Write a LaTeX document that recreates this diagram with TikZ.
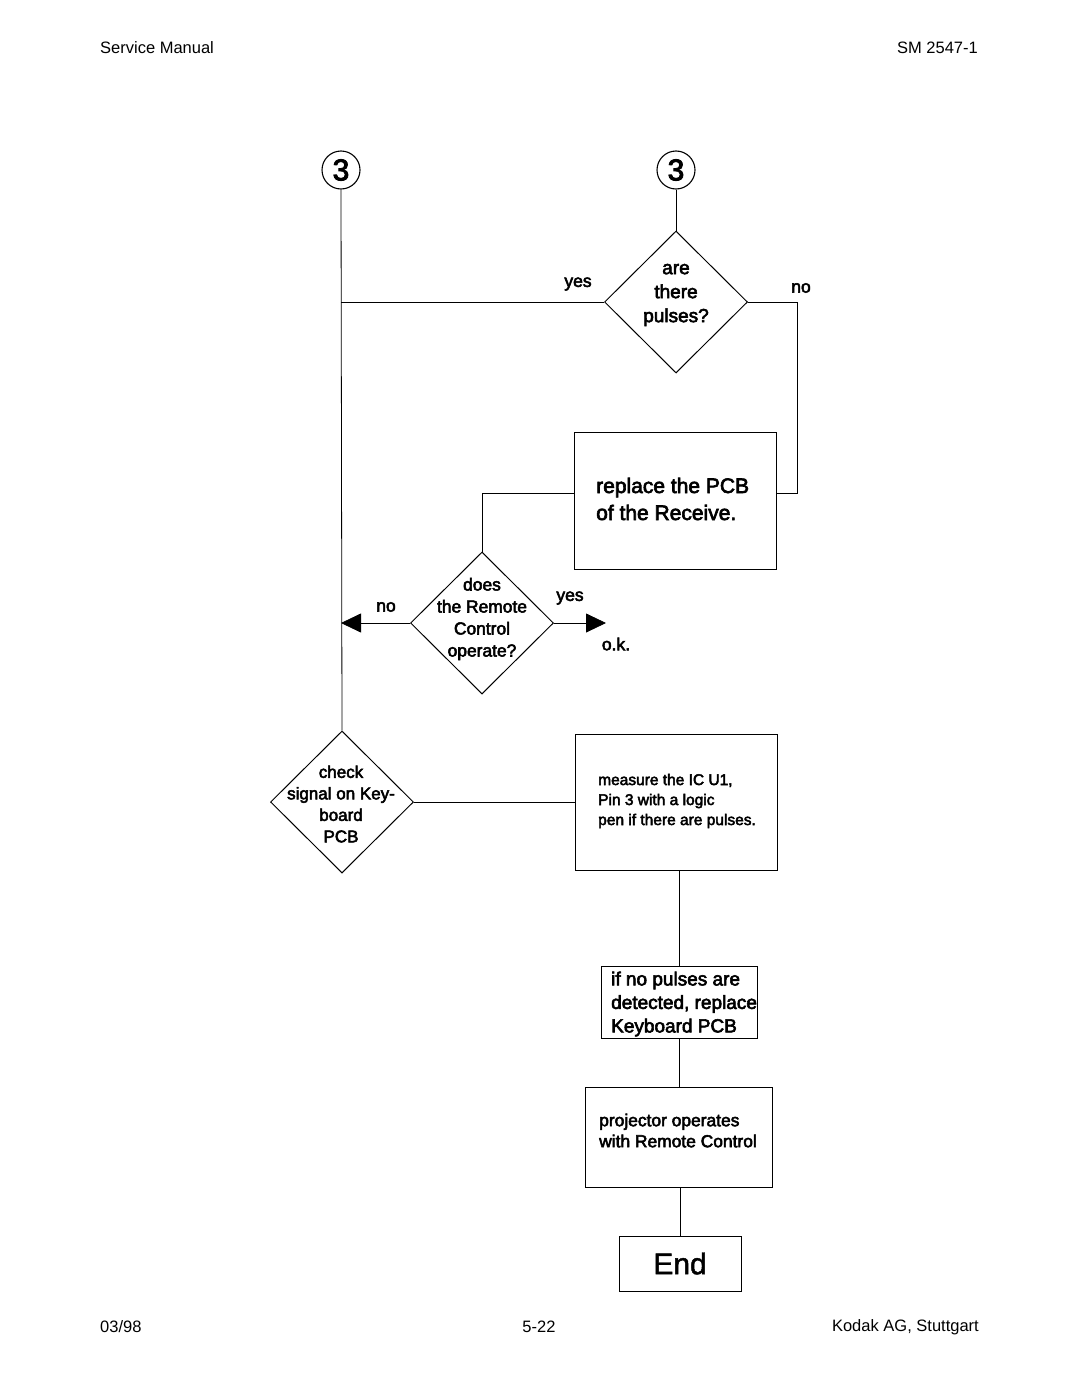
\documentclass[tikz,border=0pt]{standalone}
\usepackage{fontspec}
\setmainfont{Liberation Sans}
\newfontfamily\fc[FakeBold=3]{Liberation Sans}
\newfontfamily\fce[FakeBold=1.5]{Liberation Sans}
\usetikzlibrary{shapes.geometric,arrows.meta}
\newcommand\fsz[2]{\fontsize{#1}{#2}\selectfont}
\begin{document}
\begin{tikzpicture}[x=1pt,y=-1pt,
  conn/.style={line width=0.8pt},
  stepbox/.style={draw, line width=1pt, rectangle, inner sep=0pt},
  decision/.style={draw, line width=1pt, diamond, inner sep=0pt, minimum width=143pt, minimum height=142pt},
  conncircle/.style={draw, circle, line width=1.1pt, minimum size=38pt, inner sep=0pt, font=\fc\fsz{30}{30}},
  lbl/.style={font=\fc\fsz{17.5}{21}, inner sep=0pt},
  hdr/.style={font=\fsz{16.5}{20}, inner sep=0pt},
  txt/.style={inner sep=0pt, align=left, anchor=west},
  ctxt/.style={inner sep=0pt, align=center},
  tip/.style={-{Triangle[length=20pt,width=19pt]}}
]
\useasboundingbox (0,0) rectangle (1080,1397);
\fill[white] (0,0) rectangle (1080,1397);

% header / footer
\node[hdr, anchor=west] (h1) at (100,48) {Service Manual};
\node[hdr, anchor=east] (h2) at (978,48) {SM 2547-1};
\node[hdr, anchor=west] (f1) at (100,1327) {03/98};
\node[hdr] (f2) at (539,1327) {5-22};
\node[hdr, anchor=east] (f3) at (979,1327) {Kodak AG, Stuttgart};

% connectors (circles)
\node[conncircle] (c3a) at (341,170) {3};
\node[conncircle] (c3b) at (676,170) {3};

% decision 1
\node[decision] (d1) at (676,302) {};
\node[ctxt, font=\fc\fsz{19}{24}] (t1) at (676,295) {are\\there\\pulses?};

% replace box
\node[stepbox, minimum width=202pt, minimum height=137pt] (rb) at (675,500.5) {};
\node[txt, font=\fc\fsz{21}{27}] (t2) at (596,499) {replace the PCB\\of the Receive.};

% decision 2
\node[decision] (d2) at (482,623) {};
\node[ctxt, font=\fc\fsz{17.4}{22}] (t3) at (482,619) {does\\the Remote\\Control\\operate?};

% decision 3
\node[decision] (d3) at (342,802) {};
\node[ctxt, font=\fc\fsz{17}{21.5}] (t4) at (341,804) {check\\signal on Key-\\board\\PCB};

% measure box
\node[stepbox, minimum width=202pt, minimum height=136pt] (mb) at (676,802) {};
\node[txt, font=\fc\fsz{15.5}{20}] (t5) at (598,801) {measure the IC U1,\\Pin 3 with a logic\\pen if there are pulses.};

% no pulses box
\node[stepbox, minimum width=156pt, minimum height=72pt] (nb) at (679,1002) {};
\node[txt, font=\fc\fsz{19}{23.5}] (t6) at (611,1004) {if no pulses are\\detected, replace\\Keyboard PCB};

% projector box
\node[stepbox, minimum width=187pt, minimum height=100pt] (pb) at (678.5,1137) {};
\node[txt, font=\fc\fsz{17.4}{21}] (t7) at (599,1130.5) {projector operates\\with Remote Control};

% end box
\node[stepbox, minimum width=122pt, minimum height=55pt, font=\fce\fsz{30}{30}] (eb) at (680,1263.5) {End};

% labels
\node[lbl] (ly1) at (578,284) {yes};
\node[lbl] (ln1) at (801,288) {no};
\node[lbl] (ln2) at (386,607) {no};
\node[lbl] (ly2) at (570,598) {yes};
\node[lbl] (lok) at (616,644) {o.k.};

% lines
\draw[conn] (c3a.south) -- (d3.north);
\draw[conn] (c3b.south) -- (d1.north);
\draw[conn] (d1.west) -- (d1.west -| c3a.south);
\draw[conn] (d1.east) -- ++(49,0) |- ([yshift=7.5pt]rb.east);
\draw[conn] ([yshift=7.5pt]rb.west) -| (d2.north);
\draw[conn, tip] (d2.west) -- (d2.west -| c3a.south);
\coordinate (ok) at (606,623);
\draw[conn, tip] (d2.east) -- (ok);
\draw[conn] (d3.east) -- (mb.west);
\draw[conn] (nb.north |- mb.south) -- (nb.north);
\draw[conn] (nb.south) -- (nb.south |- pb.north);
\draw[conn] (eb.north |- pb.south) -- (eb.north);
\end{tikzpicture}
\end{document}
